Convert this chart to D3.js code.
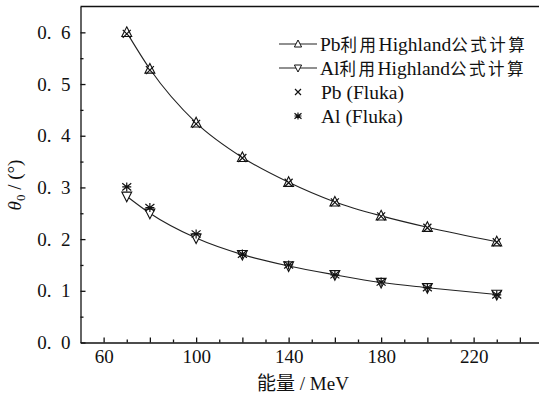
<!DOCTYPE html>
<html>
<head>
<meta charset="utf-8">
<script src="https://cdn.jsdelivr.net/npm/d3@7"></script>
<style>
  body { margin: 0; background: #fff; }
  svg text { font-family: "Liberation Serif", Tinos, "Times New Roman", "DejaVu Serif", "Noto Sans CJK SC", serif; fill: #111; }
  svg text .cjk { font-family: "Noto Sans CJK SC", sans-serif; }
</style>
</head>
<body>
<svg id="chart" width="539" height="405"></svg>
<script>
// energies (MeV)
const energy = [70, 80, 100, 120, 140, 160, 180, 200, 230];
// theta0 (deg)
const pbHighland = [0.600, 0.529, 0.425, 0.358, 0.310, 0.272, 0.245, 0.223, 0.195];
const alHighland = [0.283, 0.250, 0.202, 0.170, 0.148, 0.131, 0.116, 0.106, 0.093];
const pbFluka = [0.597, 0.527, 0.423, 0.357, 0.309, 0.271, 0.244, 0.222, 0.194];
const alFluka = [0.301, 0.261, 0.210, 0.171, 0.150, 0.131, 0.117, 0.106, 0.092];

const xMajor = [60, 80, 100, 120, 140, 160, 180, 200, 220, 240];
const xMinor = [70, 90, 110, 130, 150, 170, 190, 210, 230, 250];
const xLabels = [60, 100, 140, 180, 220];
const yMajor = [0, 0.1, 0.2, 0.3, 0.4, 0.5, 0.6];
const yMinor = [0.05, 0.15, 0.25, 0.35, 0.45, 0.55];

// legend text split into [latin, chinese, latin, chinese]
const legendNames = [
  ["Pb", "利用", "Highland", "公式计算"],
  ["Al", "利用", "Highland", "公式计算"],
  ["Pb (Fluka)"],
  ["Al (Fluka)"]
];

const svg = d3.select("#chart");
const x = d3.scaleLinear().domain([50, 250]).range([80.5, 543]);
const y = d3.scaleLinear().domain([0, 0.65]).range([342.5, 6.5]);

// axes, ticks pointing inward
svg.append("g")
  .attr("transform", `translate(0,${y(0)})`)
  .call(d3.axisBottom(x).tickValues(xMinor).tickSize(-3).tickFormat(""))
  .call(g => g.select(".domain").remove());
const xa = svg.append("g")
  .attr("transform", `translate(0,${y(0)})`)
  .call(d3.axisBottom(x).tickValues(xMajor).tickSizeInner(-5).tickSizeOuter(0).tickPadding(7)
    .tickFormat(d => xLabels.includes(d) ? d : ""));
xa.selectAll("text").style("font-size", "19px");

svg.append("g")
  .attr("transform", `translate(${x(50)},0)`)
  .call(d3.axisLeft(y).tickValues(yMinor).tickSize(-3).tickFormat(""))
  .call(g => g.select(".domain").remove());
const ya = svg.append("g")
  .attr("transform", `translate(${x(50)},0)`)
  .call(d3.axisLeft(y).tickValues(yMajor).tickSizeInner(-5).tickSizeOuter(0).tickPadding(10)
    .tickFormat(d => d3.format(".1f")(d).replace(".", ".\u2002")));
ya.selectAll("text").style("font-size", "19px");
svg.selectAll("g").attr("font-family", null);

svg.selectAll(".domain, .tick line").attr("stroke", "#111").attr("stroke-width", 1.3);

// top frame
svg.append("line")
  .attr("x1", x(50)).attr("x2", x(250))
  .attr("y1", y(0.65)).attr("y2", y(0.65))
  .attr("stroke", "#111").attr("stroke-width", 1.3);

// axis titles
const xt = svg.append("text")
  .attr("x", 303).attr("y", 390)
  .attr("text-anchor", "middle")
  .style("font-size", "19px");
xt.append("tspan").attr("class", "cjk").text("能量");
xt.append("tspan").text(" / MeV");

const yt = svg.append("text")
  .attr("transform", "translate(21,185) rotate(-90)")
  .attr("text-anchor", "middle")
  .style("font-size", "19px");
yt.append("tspan").style("font-style", "italic").text("θ");
yt.append("tspan").attr("dy", 4).style("font-size", "13px").text("0");
yt.append("tspan").attr("dy", -4).text(" / (°)");

const line = d3.line()
  .x((d, i) => x(energy[i]))
  .y(d => y(d))
  .curve(d3.curveMonotoneX);

[pbHighland, alHighland].forEach(s => {
  svg.append("path")
    .attr("d", line(s))
    .attr("fill", "none")
    .attr("stroke", "#222")
    .attr("stroke-width", 1.1);
});

function triUp(cx, cy, r) {
  return `M${cx},${cy - r}L${cx + r * 0.9},${cy + r * 0.75}L${cx - r * 0.9},${cy + r * 0.75}Z`;
}
function triDown(cx, cy, r) {
  return `M${cx},${cy + r}L${cx + r * 0.9},${cy - r * 0.75}L${cx - r * 0.9},${cy - r * 0.75}Z`;
}
function cross(g, cx, cy, r) {
  g.append("path")
    .attr("d", `M${cx - r},${cy - r}L${cx + r},${cy + r}M${cx - r},${cy + r}L${cx + r},${cy - r}`)
    .attr("stroke", "#111").attr("stroke-width", 1.2).attr("fill", "none");
}
function star(g, cx, cy, r) {
  g.append("path")
    .attr("d", `M${cx - r},${cy - r * 0.8}L${cx + r},${cy + r * 0.8}M${cx - r},${cy + r * 0.8}L${cx + r},${cy - r * 0.8}M${cx},${cy - r}L${cx},${cy + r}M${cx - r},${cy}L${cx + r},${cy}`)
    .attr("stroke", "#111").attr("stroke-width", 1.2).attr("fill", "none");
}

const marks = svg.append("g");
marks.selectAll(".pbh").data(pbHighland).join("path")
  .attr("d", (d, i) => triUp(x(energy[i]), y(d), 5.5))
  .attr("fill", "#fff").attr("stroke", "#111").attr("stroke-width", 1.1);
marks.selectAll(".alh").data(alHighland).join("path")
  .attr("class", "alh")
  .attr("d", (d, i) => triDown(x(energy[i]), y(d), 5.5))
  .attr("fill", "#fff").attr("stroke", "#111").attr("stroke-width", 1.1);
pbFluka.forEach((d, i) => cross(marks, x(energy[i]), y(d), 4));
alFluka.forEach((d, i) => star(marks, x(energy[i]), y(d), 4.5));

// legend
const lg = svg.append("g");
const rowY = [44, 68, 92, 116];
legendNames.forEach((parts, i) => {
  const ry = rowY[i];
  if (i < 2) {
    lg.append("line").attr("x1", 279).attr("x2", 317).attr("y1", ry).attr("y2", ry)
      .attr("stroke", "#222").attr("stroke-width", 1.1);
    lg.append("path")
      .attr("d", i === 0 ? triUp(298, ry, 4) : triDown(298, ry, 4))
      .attr("fill", "#fff").attr("stroke", "#111").attr("stroke-width", 1);
  } else if (i === 2) {
    cross(lg, 298, ry, 3);
  } else {
    star(lg, 298, ry, 3.5);
  }
  const t = lg.append("text")
    .attr("x", i < 2 ? 320 : 321).attr("y", ry).attr("dy", "0.35em")
    .style("font-size", "19.5px");
  parts.forEach((p, k) => {
    const s = t.append("tspan").text(p);
    if (k % 2) {
      s.attr("class", "cjk").style("font-size", "16.5px").style("letter-spacing", "2.5px");
    }
  });
});
</script>
</body>
</html>
